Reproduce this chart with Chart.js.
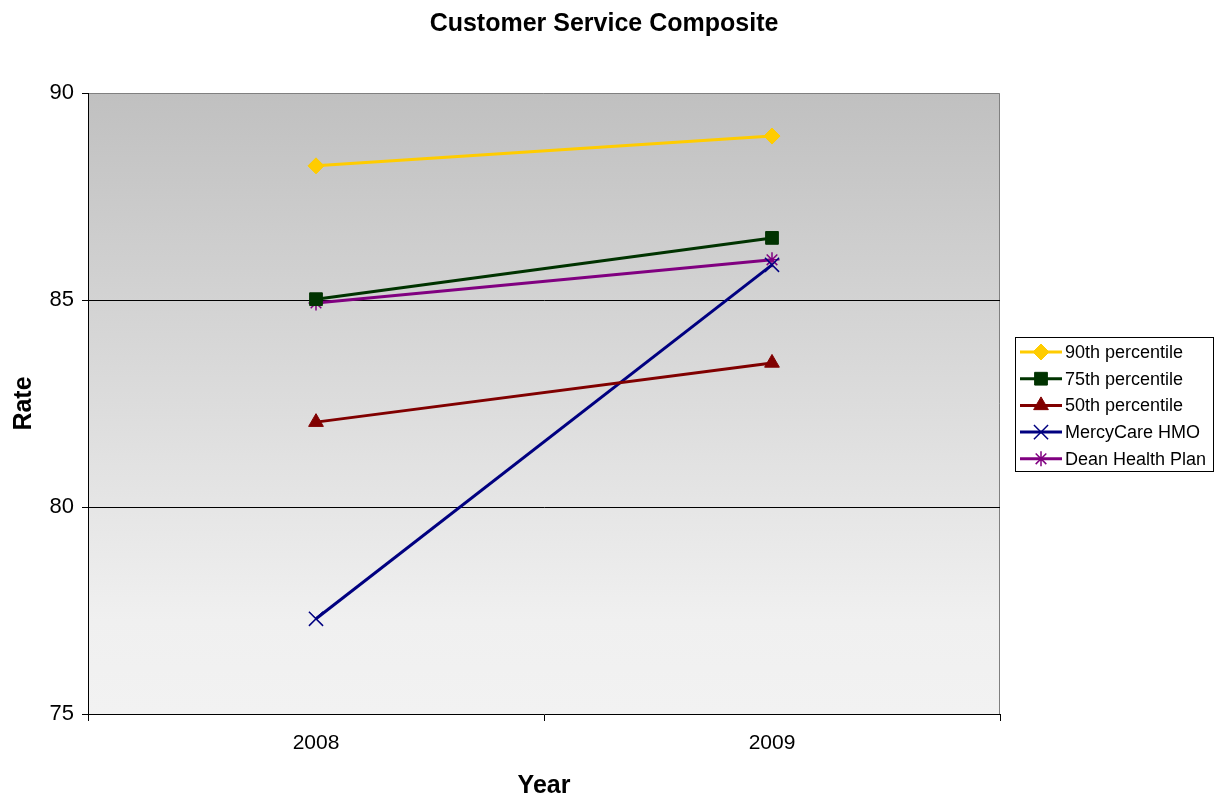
<!DOCTYPE html>
<html>
<head>
<meta charset="utf-8">
<title>Customer Service Composite</title>
<script src="https://cdn.jsdelivr.net/npm/chart.js@4/dist/chart.umd.min.js"></script>
<style>
  html, body { margin: 0; padding: 0; background: #fff; }
  #wrap { width: 1216px; height: 796px; position: relative; }
</style>
</head>
<body>
<div id="wrap"><canvas id="chart" width="1216" height="796"></canvas></div>
<script>
// Rates by year for each benchmark and plan
const years = ["2008", "2009"];
const p90 = [88.24, 88.96];
const p75 = [85.02, 86.50];
const p50 = [82.05, 83.48];
const mercyCare = [77.30, 85.85];
const deanHealth = [84.93, 85.97];

const FONT = "'Liberation Sans', Arial, sans-serif";
const TITLE = "Customer Service Composite";

function series(label, data, color, pointStyle, radius, pointWidth) {
  return {
    label, data,
    borderColor: color,
    backgroundColor: color,
    borderWidth: 3,
    pointStyle,
    pointRadius: radius,
    pointBorderWidth: pointWidth,
    pointBorderColor: color,
    pointBackgroundColor: color,
    tension: 0,
  };
}

// gradient fill behind the plot area + thin gray frame on top/right
const plotBackground = {
  id: "plotBackground",
  beforeDraw(chart) {
    const { ctx, chartArea: a } = chart;
    const g = ctx.createLinearGradient(0, a.top, 0, a.bottom);
    g.addColorStop(0, "#c0c0c0");
    g.addColorStop(0.85, "#f0f0f0");
    g.addColorStop(1, "#f2f2f2");
    ctx.save();
    ctx.fillStyle = g;
    ctx.fillRect(a.left, a.top, a.right - a.left, a.bottom - a.top);
    ctx.strokeStyle = "#808080";
    ctx.lineWidth = 1;
    ctx.beginPath();
    ctx.moveTo(a.left, a.top + 0.5);
    ctx.lineTo(a.right - 0.5, a.top + 0.5);
    ctx.lineTo(a.right - 0.5, a.bottom);
    ctx.stroke();
    ctx.restore();
  }
};

// chart title centred on the whole canvas, not just the plot
const pageTitle = {
  id: "pageTitle",
  afterDraw(chart) {
    const { ctx } = chart;
    ctx.save();
    ctx.font = "bold 25px " + FONT;
    ctx.fillStyle = "#000";
    ctx.textAlign = "center";
    ctx.textBaseline = "middle";
    ctx.fillText(TITLE, 604, 24);
    ctx.restore();
  }
};

// legend with a line segment through each marker, boxed on the right
const sideLegend = {
  id: "sideLegend",
  afterDraw(chart) {
    const { ctx } = chart;
    const x0 = 1015, y0 = 337, w = 198, h = 134;
    ctx.save();
    ctx.fillStyle = "#fff";
    ctx.fillRect(x0, y0, w, h);
    ctx.strokeStyle = "#000";
    ctx.lineWidth = 1;
    ctx.strokeRect(x0 + 0.5, y0 + 0.5, w, h);
    ctx.font = "18px " + FONT;
    ctx.textBaseline = "middle";
    chart.data.datasets.forEach((ds, i) => {
      const y = y0 + 15 + i * 26.7;
      ctx.strokeStyle = ds.borderColor;
      ctx.lineWidth = 3;
      ctx.beginPath();
      ctx.moveTo(x0 + 5, y);
      ctx.lineTo(x0 + 47, y);
      ctx.stroke();
      ctx.fillStyle = ds.borderColor;
      ctx.lineWidth = ds.pointBorderWidth;
      Chart.helpers.drawPoint(ctx, {
        pointStyle: ds.pointStyle,
        radius: ds.pointRadius,
        borderWidth: ds.pointBorderWidth,
      }, x0 + 26, y);
      ctx.fillStyle = "#000";
      ctx.fillText(ds.label, x0 + 50, y + 1);
    });
    ctx.restore();
  }
};

new Chart(document.getElementById("chart"), {
  type: "line",
  data: {
    labels: years,
    datasets: [
      series("90th percentile", p90, "#ffcc00", "rectRot", 8, 1),
      series("75th percentile", p75, "#003300", "rect", 9, 1),
      series("50th percentile", p50, "#800000", "triangle", 8.5, 1),
      series("MercyCare HMO", mercyCare, "#000080", "crossRot", 10, 1.5),
      series("Dean Health Plan", deanHealth, "#800080", "star", 7.5, 1.5),
    ],
  },
  options: {
    responsive: false,
    animation: false,
    layout: { padding: { top: 93, right: 216, bottom: 0, left: 0 } },
    scales: {
      x: {
        offset: true,
        afterFit(s) { s.height = 82; },
        grid: {
          offset: true,
          drawOnChartArea: false,
          drawTicks: true,
          tickLength: 7,
          tickColor: "#000",
        },
        border: { color: "#000", width: 1 },
        ticks: { color: "#000", font: { family: FONT, size: 21 }, padding: 10 },
        title: {
          display: true, text: "Year", color: "#000",
          font: { family: FONT, size: 25, weight: "bold", lineHeight: 0.8 },
          padding: { top: 0, bottom: 0 },
        },
      },
      y: {
        min: 75, max: 90,
        afterFit(s) { s.width = 88; },
        ticks: { stepSize: 5, color: "#000", font: { family: FONT, size: 22 }, padding: 8 },
        grid: {
          color: (c) => (c.tick && c.tick.value > 75 && c.tick.value < 90 ? "#000" : "rgba(0,0,0,0)"),
          tickColor: "#000",
          tickLength: 6,
          lineWidth: 1,
        },
        border: { color: "#000", width: 1 },
        title: {
          display: true, text: "Rate", color: "#000",
          font: { family: FONT, size: 25, weight: "bold", lineHeight: 0.8 },
          padding: { top: 14, bottom: 0 },
        },
      },
    },
    plugins: {
      legend: { display: false },
      tooltip: { enabled: false },
      title: { display: false },
    },
  },
  plugins: [plotBackground, pageTitle, sideLegend],
});
</script>
</body>
</html>
